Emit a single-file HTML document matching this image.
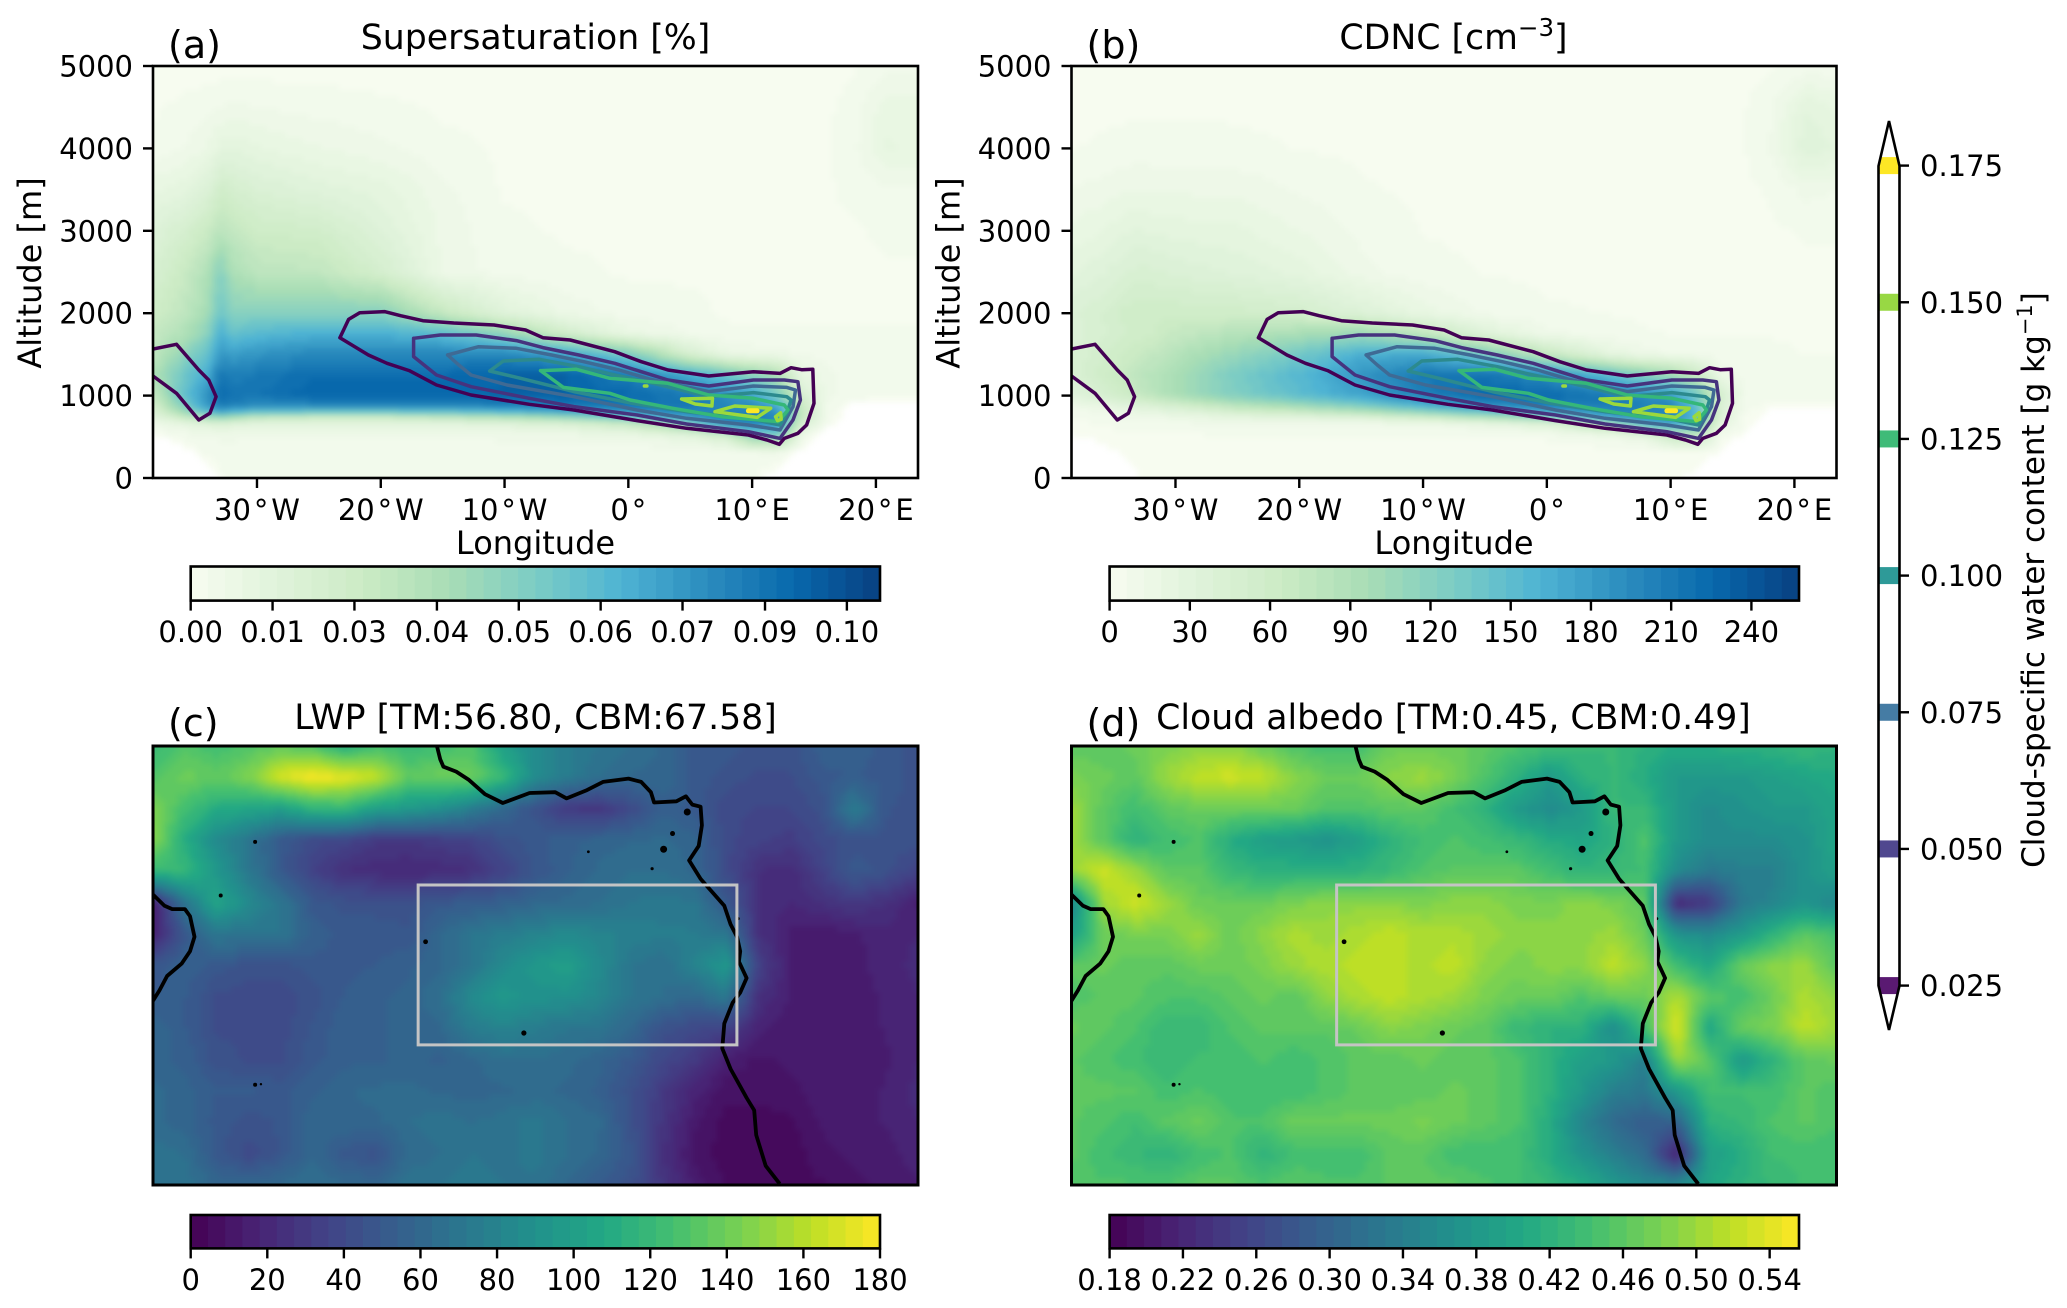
<!DOCTYPE html>
<html lang="en">
<head>
<meta charset="utf-8">
<title>Cloud chart</title>
<style>
html,body{margin:0;padding:0;background:#fff;}
svg{display:block;}
text{font-family:"DejaVu Sans","Liberation Sans",sans-serif;fill:#000;}
</style>
</head>
<body>
<svg id="fig" xmlns="http://www.w3.org/2000/svg" width="2067" height="1308" viewBox="0 0 2067 1308">
<defs>
<clipPath id="clip-top-a"><rect x="153" y="66" width="765" height="412"/></clipPath>
<clipPath id="clip-top-b"><rect x="1071.5" y="66" width="765.5" height="412"/></clipPath>
<clipPath id="clip-map-c"><rect x="153" y="746" width="765" height="439"/></clipPath>
<clipPath id="clip-map-d"><rect x="1071.5" y="746" width="765.5" height="439"/></clipPath>
<clipPath id="clip-vbar"><path d="M1889 121L1899.5 166V985.6L1889 1030L1878.5 985.6V166Z"/></clipPath>
<filter id="soft-field" x="-5%" y="-5%" width="110%" height="110%" color-interpolation-filters="sRGB"><feGaussianBlur stdDeviation="3"/></filter>
</defs>
</svg>
<script>
// ---- section grid axes ----
const sectionLons = [-38.4,-36,-34,-33,-32,-30,-25,-20,-15,-10,-5,0,5,8,10,12,14,16,18,21,23.4];
const sectionAlts = [0,300,500,650,750,850,1000,1250,1500,1750,2000,2500,3000,3500,4000,4500,5000];
// ---- panel (a) supersaturation, rows follow sectionAlts ----
const supersaturation = [
[-.01,-.01,-.003,.001,.002,.002,.002,.002,.002,.002,.002,.002,.002,.002,.002,-.002,-.01,-.01,-.01,-.01,-.01],
[-.01,-.002,.002,.002,.002,.002,.002,.002,.002,.002,.002,.002,.002,.002,.003,.004,-.001,-.01,-.01,-.01,-.01],
[-.001,.003,.004,.005,.005,.004,.004,.004,.004,.005,.005,.006,.01,.02,.045,.05,.006,-.005,-.01,-.01,-.01],
[.005,.008,.012,.014,.012,.01,.01,.01,.01,.012,.015,.025,.05,.08,.085,.08,.02,.002,-.005,-.01,-.01],
[.012,.03,.045,.05,.045,.035,.03,.03,.035,.04,.05,.065,.08,.09,.09,.085,.03,.003,-.002,-.006,-.006],
[.02,.05,.078,.088,.085,.08,.08,.08,.08,.085,.088,.09,.09,.085,.085,.075,.03,.004,-.001,-.003,-.003],
[.03,.06,.082,.095,.092,.092,.098,.098,.098,.098,.098,.096,.09,.082,.075,.055,.02,.005,.003,.002,.002],
[.038,.058,.072,.09,.088,.09,.095,.095,.095,.098,.098,.088,.072,.06,.05,.04,.01,.005,.003,.002,.002],
[.032,.048,.062,.08,.076,.08,.085,.085,.085,.085,.075,.055,.02,.008,.006,.005,.004,.003,.002,.002,.002],
[.03,.038,.05,.07,.062,.066,.07,.07,.065,.048,.024,.008,.004,.002,.002,.002,.002,.002,.002,.002,.002],
[.026,.032,.042,.06,.05,.052,.052,.052,.03,.014,.006,.003,.002,.001,.001,.001,.001,.001,.001,.001,.001],
[.02,.028,.038,.052,.04,.034,.032,.022,.006,.003,.002,.001,.001,.001,.001,.001,.001,.001,.001,.001,.001],
[.015,.021,.028,.034,.031,.026,.024,.015,.006,.002,.001,.001,.001,.001,.001,.001,.001,.001,.001,.002,.002],
[.009,.011,.016,.024,.022,.018,.014,.011,.005,.001,.001,.001,.001,.001,.001,.001,.001,.001,.002,.004,.004],
[.002,.004,.007,.011,.012,.01,.007,.005,.002,.001,.001,.001,.001,.001,.001,.001,.001,.001,.003,.01,.009],
[.001,.002,.003,.004,.005,.004,.003,.002,.001,.001,.001,.001,.001,.001,.001,.001,.001,.001,.002,.009,.008],
[0,0,0,0,0,0,0,0,0,0,0,0,0,0,0,0,0,.001,.001,.003,.003]
];
// ---- panel (b) droplet number, rows follow sectionAlts ----
const cdnc = [
[-5,-5,-2,.3,.5,.5,.5,.5,.5,.5,.5,.5,.5,.5,.5,-.5,-5,-5,-5,-5,-5],
[-5,-1,.5,1,1,1,1,1,1,1,1,1,1,1,1.5,2,-.5,-5,-5,-5,-5],
[-.5,1,2,2,2,2,3,3,3,3,3,4,8,20,55,70,5,-2,-5,-5,-5],
[2,3,5,6,6,7,8,8,8,10,15,30,85,150,170,140,25,2,-2,-5,-5],
[4,8,12,14,15,18,30,35,45,65,95,130,180,200,200,160,40,3,-1,-3,-3],
[8,15,24,28,32,40,70,90,115,150,180,200,205,205,200,150,40,5,-.5,-1,-1],
[30,48,62,70,78,95,125,150,175,205,225,225,210,195,185,140,50,10,6,5,5],
[42,58,68,78,82,95,130,155,185,210,215,195,150,120,100,70,15,8,6,5,5],
[42,54,62,68,72,85,110,135,165,170,130,70,25,12,10,8,6,5,4,3,3],
[38,46,54,58,60,70,85,95,105,75,35,12,6,4,3,3,3,3,3,3,3],
[40,48,58,60,60,60,58,52,38,20,8,4,3,2,2,2,2,2,2,2,2],
[28,34,42,44,44,40,34,26,12,5,3,2,2,1,1,1,1,1,1,2,2],
[18,22,28,30,28,26,24,16,8,3,2,1,1,1,1,1,1,1,2,4,4],
[10,12,15,16,15,15,14,9,4,2,1,1,1,1,1,1,1,2,4,12,10],
[3,4,5,6,6,6,5,3,2,1,1,1,1,1,1,1,1,3,10,35,28],
[1,2,2,2,2,2,2,1,1,1,1,1,1,1,1,1,1,3,8,28,22],
[0,0,0,0,0,0,0,0,0,0,0,0,0,0,0,0,1,1,2,6,4]
];
// ---- contour levels and colours ----
const contourLevels = [0.025,0.05,0.075,0.1,0.125,0.15,0.175];
const contourColors = ["#440154","#46337e","#3f6a94","#2c8a8e","#35b779","#9bd93c","#fde725"];
// contour vertices are [longitude, altitude]
const contour025 = [[-23.3,1703],[-22.6,1925],[-21.7,2006],[-19.7,2019],[-18.4,1970],[-16.6,1909],[-14.1,1881],[-10.85,1857],[-8.3,1796],[-6.9,1703],[-4.7,1675],[-1.1,1533],[1.05,1412],[3.2,1311],[6.5,1238],[10.1,1290],[12.25,1270],[13.15,1339],[14,1314],[14.9,1319],[15,906],[14.4,643],[13.7,542],[12.6,481],[12.2,409],[11.2,461],[9.7,522],[4.7,603],[.7,696],[-4.4,825],[-8,894],[-12.7,1007],[-15.5,1129],[-17.7,1303],[-19.5,1392],[-21,1493],[-23.3,1703]];
const contour025West = [[-38.4,1565],[-36.5,1622],[-34.7,1311],[-33.9,1189],[-33.3,987],[-33.8,785],[-34.7,704],[-36.5,1028],[-38.4,1238]];
const contour050 = [[-17.35,1695],[-15.2,1735],[-12.3,1735],[-9.05,1667],[-6.9,1582],[-4,1493],[-1.1,1392],[1.05,1290],[3.2,1189],[6.5,1117],[10.1,1189],[12.6,1189],[13.7,1169],[13.9,947],[13.3,704],[12.25,481],[9.7,562],[4.7,655],[.7,765],[-4.4,866],[-8,967],[-12.7,1108],[-15.5,1250],[-17.35,1473],[-17.35,1695]];
const contour075 = [[-14.6,1493],[-12.1,1594],[-9.05,1574],[-6.2,1493],[-3.6,1412],[-.75,1311],[1.8,1197],[6.5,1048],[10.1,1117],[12.8,1100],[13.5,1068],[13.3,865],[12.25,582],[9.7,643],[4.7,724],[.7,825],[-4.4,987],[-9.8,1129],[-12.7,1250],[-13.7,1371],[-14.6,1493]];
const contour100 = [[-11.2,1299],[-10.1,1420],[-7.2,1440],[-4,1351],[-1.1,1250],[1.8,1157],[6.5,987],[10.1,1036],[12.8,987],[13.15,947],[12.8,785],[12.25,643],[9.7,724],[4.7,805],[.3,906],[-4.4,1048],[-8.7,1210],[-11.2,1299]];
const contour125 = [[-7.1,1303],[-4.2,1319],[-1.5,1210],[3.2,1149],[6.5,1007],[10.1,967],[12.6,886],[12.9,825],[12.1,684],[7.55,744],[3.6,846],[.15,947],[-1.5,1028],[-5.25,1100],[-7.1,1303]];
const contour150A = [[4.3,959],[6.8,967],[6.75,874],[5.4,898],[4.3,959]];
const contour150B = [[7,805],[8.6,874],[11.5,846],[10.4,736],[7,805]];
const contour150C = [[11.9,744],[12.3,793],[12.35,712],[12.05,696],[11.9,744]];
const contour150D = [[1.3,1117],[1.5,1117]];
const contour175 = [[9.7,815],[10.4,815]];
const contourSets = [
  {level:0, lines:[contour025,contour025West]},
  {level:1, lines:[contour050]},
  {level:2, lines:[contour075]},
  {level:3, lines:[contour100]},
  {level:4, lines:[contour125]},
  {level:5, lines:[contour150A,contour150B,contour150C,contour150D]},
  {level:6, lines:[contour175]}
];
// ---- map grid axes ----
const mapLons = [-38.4,-35.8,-33.3,-30.7,-28.1,-25.5,-23,-20.4,-17.8,-15.2,-12.7,-10.1,-7.5,-4.9,-2.4,.2,2.8,5.4,7.9,10.5,13.1,15.7,18.2,20.8,23.4];
const mapLats = [8,5.5,2.9,.4,-2.1,-4.7,-7.2,-9.8,-12.3,-14.8,-17.4,-19.9,-22.4,-25,-27.5];
// ---- panel (c) LWP, rows follow mapLats ----
const lwp = [
[120,130,125,130,135,130,110,125,120,125,130,100,85,75,70,65,60,50,50,45,45,55,55,50,45],
[130,140,135,145,170,180,175,165,135,140,140,120,85,75,65,60,60,50,45,42,42,50,52,50,45],
[145,125,110,105,100,115,118,100,95,88,75,60,45,30,28,40,55,50,40,38,38,45,75,48,45],
[148,110,85,70,50,40,38,30,30,32,35,45,50,55,58,60,62,58,40,35,32,40,45,45,45],
[120,120,95,72,50,35,25,22,20,22,25,35,48,55,62,65,65,60,40,25,22,35,50,45,35],
[15,70,105,85,70,50,45,45,45,50,52,55,60,62,65,70,72,70,50,25,20,25,30,25,15],
[15,50,70,70,70,55,50,50,48,60,70,75,80,85,80,78,75,75,70,25,15,12,15,18,20],
[50,55,50,45,45,50,50,52,55,60,70,85,95,100,85,70,65,80,95,35,15,12,14,18,22],
[52,52,42,40,40,45,52,55,58,65,85,95,90,90,82,70,65,60,72,25,15,12,14,16,20],
[60,52,42,42,40,48,55,55,58,60,75,80,75,70,70,60,45,40,35,18,12,12,14,16,20],
[58,55,45,42,42,50,55,55,58,55,60,65,65,62,58,50,38,30,15,10,12,14,15,15,20],
[62,58,52,52,50,55,60,62,62,60,58,60,62,60,55,45,30,18,8,8,10,14,14,16,22],
[62,58,50,45,48,60,60,60,65,68,65,68,72,65,62,45,28,12,5,5,6,12,14,16,20],
[68,65,50,40,48,60,50,45,62,65,70,68,72,65,60,48,25,10,4,4,4,10,12,14,18],
[68,68,60,60,62,65,62,60,68,70,72,70,68,60,52,45,28,14,6,5,5,6,10,12,15]
];
// ---- panel (d) cloud albedo, rows follow mapLats ----
const albedo = [
[.46,.46,.47,.48,.49,.49,.47,.45,.44,.44,.47,.47,.47,.46,.45,.44,.43,.43,.42,.41,.41,.42,.42,.43,.42],
[.48,.47,.46,.50,.52,.53,.52,.49,.47,.47,.49,.50,.48,.45,.42,.38,.42,.43,.41,.38,.38,.38,.39,.40,.41],
[.50,.46,.44,.46,.47,.47,.47,.47,.45,.45,.46,.46,.44,.42,.38,.36,.38,.43,.43,.38,.36,.37,.38,.38,.40],
[.50,.46,.42,.44,.45,.41,.39,.38,.37,.39,.42,.44,.45,.44,.43,.41,.40,.42,.45,.38,.36,.36,.36,.37,.40],
[.50,.53,.50,.46,.46,.43,.42,.42,.42,.42,.43,.45,.46,.46,.46,.44,.42,.43,.44,.36,.33,.34,.34,.37,.39],
[.35,.50,.53,.50,.47,.47,.47,.48,.49,.49,.49,.48,.49,.49,.48,.48,.49,.48,.46,.22,.24,.33,.35,.37,.35],
[.39,.47,.48,.48,.50,.47,.49,.51,.50,.51,.52,.51,.51,.50,.49,.49,.49,.50,.47,.37,.36,.38,.42,.46,.44],
[.46,.47,.46,.46,.47,.47,.48,.50,.51,.52,.52,.51,.52,.49,.48,.49,.49,.52,.49,.44,.40,.47,.49,.50,.46],
[.45,.46,.46,.45,.45,.46,.47,.46,.49,.51,.52,.51,.50,.48,.47,.47,.45,.47,.47,.51,.46,.44,.47,.51,.49],
[.47,.46,.45,.43,.43,.45,.46,.46,.46,.47,.49,.48,.47,.46,.43,.42,.42,.36,.44,.54,.40,.47,.48,.52,.50],
[.46,.45,.44,.43,.44,.44,.45,.44,.45,.46,.46,.47,.46,.46,.45,.42,.39,.38,.34,.50,.46,.38,.42,.46,.47],
[.46,.46,.46,.44,.45,.44,.44,.44,.45,.46,.46,.46,.47,.46,.45,.42,.38,.34,.33,.38,.44,.44,.44,.46,.45],
[.46,.45,.44,.46,.47,.45,.45,.47,.47,.47,.47,.48,.47,.46,.45,.41,.35,.31,.29,.30,.42,.43,.45,.46,.45],
[.46,.44,.43,.42,.44,.45,.42,.44,.44,.44,.46,.46,.44,.44,.44,.41,.37,.34,.31,.21,.39,.41,.44,.44,.44],
[.45,.45,.45,.45,.46,.46,.45,.46,.45,.45,.46,.46,.46,.45,.44,.43,.41,.38,.36,.36,.40,.42,.43,.44,.44]
];
// ---- geography, [longitude, latitude] ----
const africaCoast = [[-15.45,7.94],[-15.2,6.93],[-14.94,6.33],[-13.91,5.93],[-12.88,5.26],[-11.58,4.1],[-10.14,3.39],[-7.98,4.2],[-5.91,4.26],[-4.99,3.76],[-3.34,4.43],[-2.05,5.1],[.01,5.36],[1.04,5.1],[1.82,4.26],[2.08,3.43],[3.88,3.53],[4.65,3.93],[5.17,3.26],[5.84,3.09],[5.94,1.59],[5.68,-.08],[4.91,-1.25],[5.84,-2.75],[6.72,-3.75],[7.75,-4.92],[8.26,-6.43],[8.78,-7.43],[9.04,-8.6],[8.93,-9.43],[9.55,-10.77],[9.04,-11.94],[8.42,-12.77],[7.75,-14.44],[7.59,-16.45],[8.26,-18.12],[9.55,-20.45],[10.17,-21.46],[10.33,-23.46],[11.1,-25.95],[12.23,-27.4]];
const americaCoast = [[-38.4,-4.02],[-37.47,-4.92],[-36.85,-5.19],[-35.82,-5.19],[-35.41,-5.76],[-35.05,-7.43],[-35.41,-8.6],[-36.08,-9.6],[-37.26,-10.6],[-37.88,-11.77],[-38.4,-12.6]];
const islands = [[-30.15,.25,2],[-32.93,-4.09,2],[-16.38,-7.83,2.4],[-8.44,-15.21,2.6],[-30.15,-19.39,2],[-29.68,-19.35,1.2],[-3.23,-.55,1.4],[2.85,-.35,3.5],[3.57,.92,2.5],[1.92,-1.92,1.6],[4.76,2.66,3.5],[8.88,-5.96,1.5]];
const studyBoxLons = [-16.98,8.77];
const studyBoxLats = [-3.24,-16.17];
// ---- ticks ----
const altTicks = [0,1000,2000,3000,4000,5000];
const lonTickValues = [-30,-20,-10,0,10,20];
const lonTickLabels = ["30\u200a\u00b0\u200aW","20\u200a\u00b0\u200aW","10\u200a\u00b0\u200aW","0\u200a\u00b0","10\u200a\u00b0\u200aE","20\u200a\u00b0\u200aE"];
const barATicks = [0,.0131,.0262,.0394,.0525,.0656,.0787,.0919,.105];
const barATickLabels = ["0.00","0.01","0.03","0.04","0.05","0.06","0.07","0.09","0.10"];
const barBTicks = [0,30,60,90,120,150,180,210,240];
const barCTicks = [0,20,40,60,80,100,120,140,160,180];
const barDTicks = [.18,.22,.26,.30,.34,.38,.42,.46,.50,.54];
const barDTickLabels = ["0.18","0.22","0.26","0.30","0.34","0.38","0.42","0.46","0.50","0.54"];
const vbarTickLabels = ["0.025","0.050","0.075","0.100","0.125","0.150","0.175"];

// ---- colour maps ----
const gnbuStops = ["#f7fcf0","#e0f3db","#ccebc5","#a8ddb5","#7bccc4","#4eb3d3","#2b8cbe","#0868ac","#084081"];
const viridisStops = ["#440154","#482475","#414487","#355f8d","#2a788e","#21918c","#22a884","#44bf70","#7ad151","#bddf26","#fde725"];
function hex(c){return [parseInt(c.slice(1,3),16),parseInt(c.slice(3,5),16),parseInt(c.slice(5,7),16)];}
function cmap(stops,t){
  t=Math.max(0,Math.min(1,t));
  const p=t*(stops.length-1), i=Math.min(stops.length-2,Math.floor(p)), f=p-i;
  const a=hex(stops[i]), b=hex(stops[i+1]);
  return 'rgb('+Math.round(a[0]+(b[0]-a[0])*f)+','+Math.round(a[1]+(b[1]-a[1])*f)+','+Math.round(a[2]+(b[2]-a[2])*f)+')';
}
const NS='http://www.w3.org/2000/svg';
const fig=document.getElementById('fig');
function mk(tag,attrs,parent){
  const el=document.createElementNS(NS,tag);
  for(const k in attrs) el.setAttribute(k,attrs[k]);
  (parent||fig).appendChild(el);
  return el;
}
function lin(d0,d1,r0,r1){const s=v=>r0+(v-d0)*(r1-r0)/(d1-d0); s.inv=p=>d0+(p-r0)*(d1-d0)/(r1-r0); return s;}
function locate(arr,v){
  const asc=arr[1]>arr[0];
  let i=0;
  while(i<arr.length-2 && (asc? v>arr[i+1] : v<arr[i+1])) i++;
  let f=(v-arr[i])/(arr[i+1]-arr[i]);
  return [i,Math.max(0,Math.min(1,f))];
}
function drawField(parent,box,xs,ys,gx,gy,values,stops,vmin,vmax,levels){
  const g=mk('g',{filter:'url(#soft-field)'},parent);
  
  
  const frag=document.createDocumentFragment();
  const step=6, pad=12;
  for(let py=box.y-pad;py<box.y+box.h+pad;py+=step){
    for(let px=box.x-pad;px<box.x+box.w+pad;px+=step){
      const lx=locate(gx,xs.inv(px+step/2)), ly=locate(gy,ys.inv(py+step/2));
      const r0=values[ly[0]], r1=values[ly[0]+1];
      const v0=r0[lx[0]]*(1-lx[1])+r0[lx[0]+1]*lx[1];
      const v1=r1[lx[0]]*(1-lx[1])+r1[lx[0]+1]*lx[1];
      const v=v0*(1-ly[1])+v1*ly[1];
      if(v<0) continue;
      const t=Math.floor((v-vmin)/(vmax-vmin)*levels+0.5)/levels;
      const el=document.createElementNS(NS,'rect');
      
      
      el.setAttribute('x',px);
      el.setAttribute('y',py);
      el.setAttribute('width',step);
      el.setAttribute('height',step);
      el.setAttribute('fill',cmap(stops,t));
      el.setAttribute('shape-rendering','crispEdges');
      frag.appendChild(el);
    }
  }
  g.appendChild(frag);
}
function txt(s,x,y,size,anchor,name,parent,rot){
  const el=mk('text',{x:x,y:y,'font-size':size,'text-anchor':anchor||'middle'},parent);
  
  
  if(rot) el.setAttribute('transform','rotate('+rot+' '+x+' '+y+')');
  el.textContent=s;
  return el;
}
function line(x1,y1,x2,y2,w,name,parent){
  const el=mk('line',{x1:x1,y1:y1,x2:x2,y2:y2,stroke:'#000','stroke-width':w},parent);
  
  
  return el;
}
function frame(x,y,w,h,sw,name,parent){
  const el=mk('rect',{x:x,y:y,width:w,height:h,fill:'none',stroke:'#000','stroke-width':sw},parent);
  
  
  return el;
}
const TICK=29, TITLE=34.7, LABEL=32, PANEL=38;

function hBar(id,x0,x1,y0,y1,vmin,vmax,stops,ticks,labels,n){
  const g=mk('g',{});
  
  
  const sx=lin(vmin,vmax,x0,x1);
  for(let i=0;i<n;i++){
    const a=vmin+(vmax-vmin)*i/n, b=vmin+(vmax-vmin)*(i+1)/n;
    const r=mk('rect',{x:sx(a),y:y0,width:sx(b)-sx(a)+0.4,height:y1-y0,fill:cmap(stops,(i+0.5)/n)},g);
    
    
  }
  frame(x0,y0,x1-x0,y1-y0,2.6,'colorbar-outline',g);
  ticks.forEach((t,i)=>{
    line(sx(t),y1,sx(t),y1+10,2.4,'colorbar-tick',g);
    txt(labels[i],sx(t),y1+41.5,TICK,'middle','colorbar-tick-label',g);
  });
}

// ---- top panels ----
function sectionPanel(id,left,values,vmax,label,clip){
  const box={x:left,y:66,w:765,h:412};
  const xs=lin(-38.4,23.4,left,left+765);
  const ys=lin(0,5000,478,66);
  const g=mk('g',{});
  
  
  const clipG=mk('g',{'clip-path':'url(#'+clip+')'},g);
  drawField(clipG,box,xs,ys,sectionLons,sectionAlts,values,gnbuStops,0,vmax,40);
  contourSets.forEach(set=>{
    set.lines.forEach(pts=>{
      const p=mk('polyline',{points:pts.map(q=>xs(q[0]).toFixed(1)+','+ys(q[1]).toFixed(1)).join(' '),fill:'none',stroke:contourColors[set.level],'stroke-width':set.level===6?5:3.5,'stroke-linejoin':'round','stroke-linecap':'round'},clipG);
      
      
    });
  });
  frame(left,66,765,412,2.6,'axes-frame',g);
  altTicks.forEach(a=>{
    line(left-10,ys(a),left,ys(a),2.4,'y-tick',g);
    txt(String(a),left-20,ys(a)+10.5,TICK,'end','y-tick-label',g);
  });
  lonTickValues.forEach((l,i)=>{
    line(xs(l),478,xs(l),488,2.4,'x-tick',g);
    txt(lonTickLabels[i],xs(l),520,TICK,'middle','x-tick-label',g);
  });
  txt('Longitude',left+382.5,554,LABEL,'middle','x-axis-title',g);
  txt('Altitude [m]',left-112,273,LABEL,'middle','y-axis-title',g,-90);
  txt(label,left+15,58,PANEL,'start','panel-label',g);
  return g;
}
const pa=sectionPanel('a',153,supersaturation,0.1103,'(a)','clip-top-a');
txt('Supersaturation [%]',535.5,49,TITLE,'middle','panel-title',pa);
const pb=sectionPanel('b',1071.5,cdnc,257.8,'(b)','clip-top-b');
const tb=txt('CDNC [cm',1453.5,49,TITLE,'middle','panel-title',pb);
const tbs=mk('tspan',{'font-size':24.5,dy:-13},tb); tbs.textContent='\u22123';


const tbe=mk('tspan',{dy:13},tb); tbe.textContent=']';



// ---- map panels ----
function mapPanel(id,left,values,vmin,vmax,label,clip,title,titleX){
  const box={x:left,y:746,w:765,h:439};
  const xs=lin(-38.4,23.4,left,left+765);
  const ys=lin(8,-27.5,746,1185);
  const g=mk('g',{});
  
  
  const clipG=mk('g',{'clip-path':'url(#'+clip+')'},g);
  drawField(clipG,box,xs,ys,mapLons,mapLats,values,viridisStops,vmin,vmax,40);
  [africaCoast,americaCoast].forEach(c=>{
    const p=mk('polyline',{points:c.map(q=>xs(q[0]).toFixed(1)+','+ys(q[1]).toFixed(1)).join(' '),fill:'none',stroke:'#000','stroke-width':3.8,'stroke-linejoin':'round'},clipG);
    
    
  });
  islands.forEach(c=>{
    const d=mk('circle',{cx:xs(c[0]),cy:ys(c[1]),r:c[2],fill:'#000'},clipG);
    
    
  });
  const b=mk('rect',{x:xs(studyBoxLons[0]),y:ys(studyBoxLats[0]),width:xs(studyBoxLons[1])-xs(studyBoxLons[0]),height:ys(studyBoxLats[1])-ys(studyBoxLats[0]),fill:'none',stroke:'#c4c4c4','stroke-width':3},clipG);
  
  
  frame(left,746,765,439,3,'axes-frame',g);
  txt(label,left+15,736,PANEL,'start','panel-label',g);
  txt(title,titleX,729,TITLE,'middle','panel-title',g);
}
mapPanel('c',153,lwp,0,180,'(c)','clip-map-c','LWP [TM:56.80, CBM:67.58]',535.5);
mapPanel('d',1071.5,albedo,.18,.556,'(d)','clip-map-d','Cloud albedo [TM:0.45, CBM:0.49]',1453.5);

// ---- horizontal colour bars ----
hBar('a',190.7,880,566.5,600.6,0,.1103,gnbuStops,barATicks,barATickLabels,40);
hBar('b',1109.6,1799,566.5,600.6,0,257.8,gnbuStops,barBTicks,barBTicks.map(String),40);
hBar('c',190.7,880,1215,1248.4,0,180,viridisStops,barCTicks,barCTicks.map(String),40);
hBar('d',1109.6,1799,1215,1248.4,.18,.556,viridisStops,barDTicks,barDTickLabels,40);

// ---- vertical contour colour bar ----
(function(){
  const g=mk('g',{});
  
  
  const sy=lin(.025,.175,985.6,165.6);
  const clipG=mk('g',{'clip-path':'url(#clip-vbar)'},g);
  contourLevels.forEach((lv,i)=>{
    const r=mk('rect',{x:1878,y:sy(lv)-8.5,width:22,height:17,fill:['#5a1a72','#50488f','#457ca4','#2e9a98','#3fbb78','#98d844','#fde725'][i]},clipG);
    
    
    line(1899.5,sy(lv),1909,sy(lv),2.4,'colorbar-tick',g);
    txt(vbarTickLabels[i],1920,sy(lv)+10.5,TICK,'start','colorbar-tick-label',g);
  });
  const o=mk('path',{d:'M1889 121L1899.5 166V985.6L1889 1030L1878.5 985.6V166Z',fill:'none',stroke:'#000','stroke-width':2.6,'stroke-linejoin':'miter'},g);
  
  
  const t=txt('Cloud-specific water content [g kg',2044,580,31,'middle','colorbar-title',g,-90);
  const s=mk('tspan',{'font-size':21,dy:-12},t); s.textContent='\u22121';
  
  
  const e=mk('tspan',{dy:12},t); e.textContent=']';
  
  
})();
</script>
</body>
</html>
